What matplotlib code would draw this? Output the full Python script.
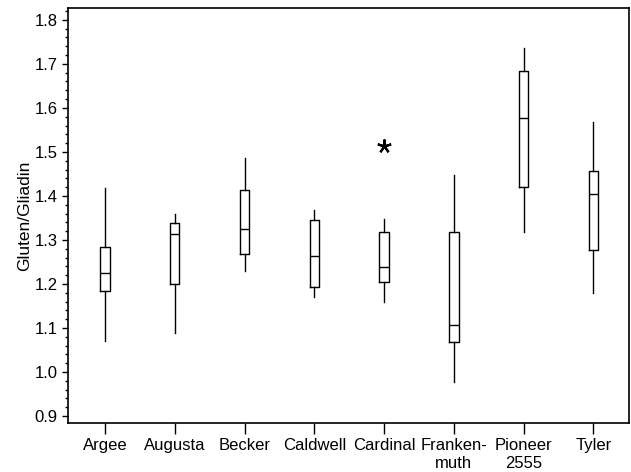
import matplotlib
matplotlib.use("Agg")
import matplotlib.pyplot as plt
from matplotlib.ticker import MultipleLocator

plt.rcParams['font.family'] = ['Liberation Sans', 'DejaVu Sans']

categories = ["Argee", "Augusta", "Becker", "Caldwell", "Cardinal", "Franken-\nmuth", "Pioneer\n2555", "Tyler"]
whisker_low = [1.07, 1.089, 1.23, 1.171, 1.159, 0.978, 1.318, 1.18]
q1 = [1.184, 1.20, 1.269, 1.193, 1.205, 1.068, 1.42, 1.277]
median = [1.225, 1.314, 1.325, 1.264, 1.239, 1.107, 1.577, 1.404]
q3 = [1.285, 1.338, 1.414, 1.345, 1.318, 1.318, 1.683, 1.457]
whisker_high = [1.418, 1.359, 1.486, 1.368, 1.348, 1.448, 1.736, 1.568]
outliers = [[], [], [], [], [1.513], [], [], []]

fig = plt.figure(figsize=(6.31, 4.72), dpi=100)
ax = fig.add_axes([68/631, 1-423/472, (629-68)/631, (423-8)/472])

stats = []
for i, c in enumerate(categories):
    stats.append(dict(label=c, whislo=whisker_low[i], q1=q1[i], med=median[i],
                      q3=q3[i], whishi=whisker_high[i], fliers=outliers[i]))

ax.bxp(stats, positions=range(1, len(categories)+1), widths=0.135,
       showcaps=False,
       boxprops=dict(color='black', linewidth=1.0),
       medianprops=dict(color='black', linewidth=1.0),
       whiskerprops=dict(color='black', linewidth=1.0),
       flierprops=dict(marker=(5, 2, 0), markersize=10, markeredgecolor='black',
                       markeredgewidth=1.6, linestyle='none'))

ax.set_xlim(0.47, 8.51)
ax.set_ylim(0.884, 1.827)
ax.yaxis.set_minor_locator(MultipleLocator(0.02))
ax.set_yticks([0.9, 1.0, 1.1, 1.2, 1.3, 1.4, 1.5, 1.6, 1.7, 1.8])
ax.set_yticklabels(["0.9", "1.0", "1.1", "1.2", "1.3", "1.4", "1.5", "1.6", "1.7", "1.8"])
ax.tick_params(axis='both', which='major', labelsize=12, length=4, width=1, direction='out')
ax.tick_params(axis='y', which='minor', length=2, width=1)
ax.tick_params(axis='x', which='major', length=8, pad=3)
ax.set_ylabel("Gluten/Gliadin", fontsize=12.5, labelpad=2)
for s in ax.spines.values():
    s.set_linewidth(1.2)

fig.savefig("out.png", dpi=100)
